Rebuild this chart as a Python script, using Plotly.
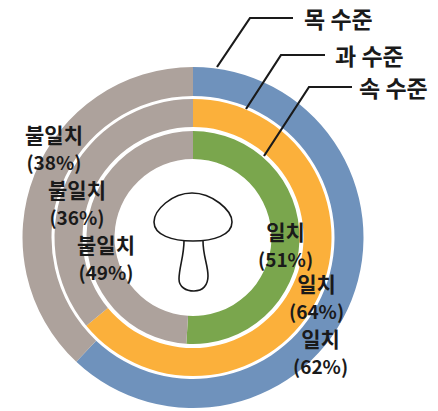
import plotly.graph_objects as go

W, H = 438, 411
CX, CY = 193, 237.5
levels = ["목 수준", "과 수준", "속 수준"]
match_label = "일치"
mismatch_label = "불일치"
match_values = [62, 64, 51]
mismatch_values = [38, 36, 49]
colors = ["#6F92BC", "#FBB03B", "#7AA64D"]
gray = "#ADA29C"
FONT = "Noto Sans CJK KR"
radii = [(170.5, 141.5), (138.5, 110.5), (106.5, 78.5)]

fig = go.Figure()
for lvl, m, n, c, (ro, ri) in zip(levels, match_values, mismatch_values, colors, radii):
    fig.add_trace(go.Pie(
        labels=[match_label, mismatch_label], values=[m, n], name=lvl,
        sort=False, direction="clockwise", rotation=0, hole=ri / ro,
        marker=dict(colors=[c, gray], line=dict(width=0)),
        textinfo="none", hoverinfo="label+percent", showlegend=False,
        domain=dict(x=[(CX - ro) / W, (CX + ro) / W],
                    y=[1 - (CY + ro) / H, 1 - (CY - ro) / H]),
    ))

leader_paths = [
    "M 217 67 L 250 18 L 293 18",
    "M 246 109 L 281 55 L 325 55",
    "M 264 156 L 309 87 L 352 87",
]
for d in leader_paths:
    fig.add_shape(type="path", path=d, xref="x", yref="y",
                  line=dict(color="#1a1a1a", width=2.2))

cap = ("M 192 193 C 172 193 154 210 154 222 C 154 235 172 241 193 241 "
       "C 214 241 232 235 232 222 C 232 210 212 193 192 193 Z")
stem = ("M 184 241 C 184 256 179 268 179 279 C 179 287 186 291 194 291 "
        "C 203 291 208 285 208 276 C 208 265 203 256 203 241")
for d in (cap, stem):
    fig.add_shape(type="path", path=d, xref="x", yref="y",
                  line=dict(color="#1a1a1a", width=1.6))

level_pos = [(338, 18), (369, 55), (393, 87)]
for t, (x, y) in zip(levels, level_pos):
    fig.add_annotation(x=x, y=y, xref="x", yref="y", text=t, showarrow=False,
                       font=dict(family=FONT, size=23, color="#1a1a1a", weight="bold"))

label_pos_match = [(320, 351), (316, 296), (285, 244)]
label_pos_mismatch = [(54, 147), (77, 202), (106, 257)]
for vals, name, positions in ((match_values, match_label, label_pos_match),
                              (mismatch_values, mismatch_label, label_pos_mismatch)):
    for v, (x, y) in zip(vals, positions):
        fig.add_annotation(x=x, y=y, xref="x", yref="y",
                           text=f'{name}<br><span style="font-size:19px">({v}%)</span>',
                           showarrow=False, align="center",
                           font=dict(family=FONT, size=21, color="#1a1a1a", weight="bold"))

fig.update_layout(
    width=W, height=H, margin=dict(l=0, r=0, t=0, b=0),
    paper_bgcolor="white", plot_bgcolor="rgba(0,0,0,0)",
    xaxis=dict(range=[0, W], visible=False, domain=[0, 1], fixedrange=True),
    yaxis=dict(range=[H, 0], visible=False, domain=[0, 1], fixedrange=True),
)
fig.write_html("out.html", config=dict(displayModeBar=False),
               post_script="document.body.style.margin='0';")
